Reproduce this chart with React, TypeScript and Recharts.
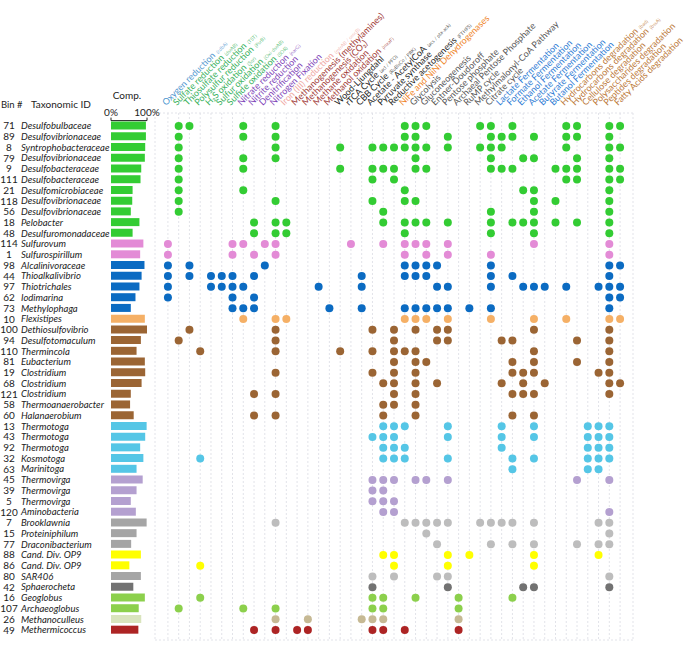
import { BarChart, Bar, XAxis, YAxis, Cell, ScatterChart, Scatter, CartesianGrid } from 'recharts';

const bins = ['71', '89', '8', '79', '9', '111', '21', '118', '56', '18', '48', '114', '1', '98', '44', '97', '62', '73', '10', '100', '94', '110', '81', '19', '68', '121', '58', '60', '13', '43', '92', '32', '63', '45', '39', '5', '120', '7', '15', '77', '88', '86', '80', '42', '16', '107', '26', '49'];

const taxa = ['Desulfobulbaceae', 'Desulfovibrionaceae', 'Syntrophobacteraceae', 'Desulfovibrionaceae', 'Desulfobacteraceae', 'Desulfobacteraceae', 'Desulfomicrobiaceae', 'Desulfovibrionaceae', 'Desulfovibrionaceae', 'Pelobacter', 'Desulfuromonadaceae', 'Sulfurovum', 'Sulfurospirillum', 'Alcalinivoraceae', 'Thioalkalivibrio', 'Thiotrichales', 'Iodimarina', 'Methylophaga', 'Flexistipes', 'Dethiosulfovibrio', 'Desulfotomaculum', 'Thermincola', 'Eubacterium', 'Clostridium', 'Clostridium', 'Clostridium', 'Thermoanaerobacter', 'Halanaerobium', 'Thermotoga', 'Thermotoga', 'Thermotoga', 'Kosmotoga', 'Marinitoga', 'Thermovirga', 'Thermovirga', 'Thermovirga', 'Aminobacteria', 'Brooklawnia', 'Proteiniphilum', 'Draconibacterium', 'Cand. Div. OP9', 'Cand. Div. OP9', 'SAR406', 'Sphaerocheta', 'Geoglobus', 'Archaeoglobus', 'Methanoculleus', 'Methermicoccus'];

// genome completeness, %
const completeness = [97, 97, 95, 94, 84, 82, 60, 59, 55, 79, 60, 90, 81, 93, 85, 79, 68, 55, 94, 100, 83, 71, 94, 95, 85, 55, 53, 63, 99, 95, 81, 90, 71, 88, 71, 55, 69, 99, 71, 56, 83, 51, 83, 62, 94, 77, 84, 76];

const groups = [
  'sred', 'sred', 'sred', 'sred', 'sred', 'sred', 'sred', 'sred', 'sred', 'sred', 'sred',
  'epsi', 'epsi',
  'gamma', 'gamma', 'gamma', 'gamma', 'gamma',
  'defer',
  'firm', 'firm', 'firm', 'firm', 'firm', 'firm', 'firm', 'firm', 'firm',
  'toga', 'toga', 'toga', 'toga', 'toga',
  'syner', 'syner', 'syner', 'syner',
  'bact', 'bact', 'bact',
  'op9', 'op9',
  'bact', 'spiro',
  'arch', 'arch',
  'mcull', 'mcoc',
];

const barColor: Record<string, string> = {
  sred: '#33cc33', epsi: '#e38bd6', gamma: '#0b6bc2', defer: '#f5b066', firm: '#9b6534',
  toga: '#55c6e6', syner: '#b4a0d0', bact: '#a5a5a5', op9: '#ffff00', spiro: '#727272',
  arch: '#8cd04c', mcull: '#d9e4bd', mcoc: '#ad2424',
};
const dotColor: Record<string, string> = { ...barColor, bact: '#bdbdbd', mcull: '#c6b994' };

const pathways = ['Oxygen reduction', 'Sulfate reduction', 'Thiosulfate reduction', 'Polysulfur reduction', 'H\u2082S oxidation', 'Sulfur oxidation', 'Sulfide oxidation', 'Nitrate reduction', 'Nitrite reduction', 'Denitrification', 'Nitrogen Fixation', 'Iron (III) reduction', 'Methanogenesis (methylamines)', 'Methanogenesis (CO\u2082)', 'Methane oxidation', 'Methanol oxidation', 'Wood-Ljungdahl', 'rTCA Cycle', 'CBB Cycle', 'Acetate - AcetylCoA', 'Pyruvate synthase', 'Reductive acetogenesis', 'NiFe and NiNi Dehydrogenases', 'Glycolysis', 'Gluconeogenesis', 'Entner-Doudoroff', 'Pentose phosphate', 'Archaeal Pentose Phosphate', 'RuMP cycle', 'Methylmalonyl-CoA Pathway', 'Citrate cycle', 'Lactate Fermentation', 'Formate Fermentation', 'Ethanol Fermentation', 'Acetate Fermentation', 'Butyrate Fermentation', 'Butanol Fermentation', 'Hydrocarbons degradation', 'Hydrocarbons degradation', 'Cellulose degradation', 'Polysaccharides degradation', 'Peptides degradation', 'Fatty Acids degradation'];

const genes = ['(cdbA)', '(dsrAB)', '(TST)', '(PsrB)', '(Sqr)', '(Oxi-dsrAB)', '(SOR)', '(narG)', '', '', '', '(mtrAB / omcB)', '', '', '', '(mxaF)', '', '(acl / PFO)', '(RuBisCo / PRK)', '(acs / pta-ack)', '', '(FTHFS)', '', '', '', '', '', '', '', '', '', '', '', '', '', '', '', '(bad)', '(bssA)', '', '', '', ''];

const pathwayKind = ['o2', 's', 's', 's', 's', 's', 's', 'n', 'n', 'n', 'n', 'fe', 'ch4', 'ch4', 'ch4', 'ch4', 'c', 'c', 'c', 'c', 'c', 'c', 'h2', 'cm', 'cm', 'cm', 'cm', 'cm', 'cm', 'cm', 'cm', 'ferm', 'ferm', 'ferm', 'ferm', 'ferm', 'ferm', 'deg', 'deg', 'deg', 'deg', 'deg', 'deg'];

const kindColor: Record<string, string> = {
  o2: '#4f97cf', s: '#35b05a', n: '#7d3fb8', fe: '#efa8a3', ch4: '#a13a36', c: '#1e1e1e',
  h2: '#ef8426', cm: '#555555', ferm: '#2d7bd4', deg: '#bb7838',
};

// pathway columns (1-based) present in each bin
const traits = [
  [2, 3, 8, 11, 23, 24, 25, 30, 31, 33, 38, 39, 42, 43],
  [2, 8, 11, 23, 24, 27, 31, 32, 33, 35, 38, 39, 42],
  [2, 11, 17, 20, 21, 22, 23, 24, 25, 27, 30, 31, 32, 38, 42, 43],
  [2, 8, 11, 24, 31, 34, 35, 39, 42],
  [2, 8, 17, 20, 21, 22, 24, 25, 31, 32, 33, 37, 38, 39, 42, 43],
  [2, 20, 22, 38, 39, 42, 43],
  [2, 8, 23, 34, 35, 42],
  [2, 11, 20, 23, 24, 35, 37, 42],
  [2, 21, 31, 35, 42],
  [9, 11, 12, 21, 23, 24, 25, 27, 31, 33, 34, 35, 37, 39, 42],
  [9, 11, 12, 23, 31, 35, 42],
  [1, 7, 8, 10, 11, 18, 21, 23, 24, 25, 27, 35, 42],
  [1, 7, 9, 11, 23, 25, 27, 31, 42],
  [1, 3, 10, 23, 24, 25, 26, 31, 42, 43],
  [1, 3, 5, 6, 7, 9, 19, 23, 24, 25, 31, 33, 42],
  [1, 5, 6, 7, 8, 15, 19, 26, 27, 31, 34, 35, 36, 38, 41, 42, 43],
  [1, 7, 9, 42, 43],
  [7, 8, 9, 16, 19, 23, 24, 25, 26, 27, 29, 31, 42],
  [8, 11, 12, 23, 24, 25, 27, 31, 35, 38, 42, 43],
  [3, 11, 20, 22, 24, 26, 27, 35, 42],
  [2, 11, 22, 26, 27, 32, 33, 39, 42],
  [4, 11, 17, 20, 22, 23, 24, 35, 42],
  [22, 24, 25, 33, 35, 39, 42],
  [11, 20, 22, 24, 33, 34, 35, 41, 42],
  [21, 22, 24, 26, 32, 34, 36, 42, 43],
  [9, 11, 22, 24, 33, 34, 35, 42],
  [21, 22, 24],
  [9, 11, 21, 24, 33, 35],
  [21, 22, 23, 27, 32, 35, 40, 41, 42],
  [20, 21, 22, 27, 32, 35, 40, 41, 42],
  [21, 22, 23, 32, 40, 41, 42],
  [4, 21, 22, 23, 27, 33, 35, 40, 41, 42],
  [33, 40, 41],
  [20, 21, 22, 24, 25, 27, 39, 42],
  [20, 21],
  [20, 21, 22],
  [21, 22, 42],
  [11, 23, 24, 25, 26, 27, 30, 31, 32, 33, 35, 41, 42],
  [25, 42],
  [26, 31, 33, 35, 39, 41, 42],
  [21, 22, 27, 29, 35, 41],
  [4, 22, 27, 35],
  [20, 22, 26, 27, 42],
  [20, 27, 34, 35, 42],
  [4, 20, 21, 24, 28, 33],
  [2, 8, 11, 20, 21, 28],
  [11, 14, 19, 20, 21, 28],
  [9, 11, 13, 14, 20, 21, 23, 28],
];

const barData = bins.map((bin, i) => ({ bin, taxon: taxa[i], comp: completeness[i], group: groups[i] }));
const dots = traits.flatMap((cols, r) => cols.map((c) => ({ x: c, y: r + 1, color: dotColor[groups[r]] })));
const colTicks = pathways.map((_, i) => i + 1);
const rowTicks = bins.map((_, i) => i + 1);

const FONT = 'Lato, "Liberation Sans", sans-serif';

function TaxonTick(props: any) {
  const { y, payload } = props;
  const i = payload.index;
  return (
    <g>
      <text x={9} y={y} dy="0.35em" textAnchor="middle" fontSize={10} fill="#222" fontFamily={FONT}>{bins[i]}</text>
      <text x={21} y={y} dy="0.35em" textAnchor="start" fontSize={9.5} fontStyle="italic" fill="#222" fontFamily={FONT}>{taxa[i]}</text>
    </g>
  );
}

function PathwayTick(props: any) {
  const { x, payload } = props;
  const i = payload.value - 1;
  const col = kindColor[pathwayKind[i]];
  return (
    <g transform={`translate(${x - 2},106) rotate(-45)`}>
      <text x={0} y={0} fontSize={9} fill={col} fontFamily={FONT}>
        {pathways[i]}
        {genes[i] ? <tspan fontSize={5} dx={3} fillOpacity={0.75}>{genes[i]}</tspan> : null}
      </text>
    </g>
  );
}

function Dot(props: any) {
  const { cx, cy, payload } = props;
  return <circle cx={cx} cy={cy} r={4} fill={payload.color} />;
}

export default function App() {
  return (
    <div style={{ position: 'absolute', left: 0, top: 0, width: 685, height: 645, background: '#fff' }}>
      <div style={{ position: 'absolute', left: 0, top: 0 }}>
        <ScatterChart width={685} height={645} margin={{ top: 13, right: 52, bottom: 5, left: 155 }}>
          <CartesianGrid strokeDasharray="2 2" stroke="#dfe0e6" strokeWidth={0.9} />
          <XAxis type="number" dataKey="x" orientation="top" domain={[-0.2, 44.2]} ticks={colTicks} interval={0}
            height={100} axisLine={false} tickLine={false} tick={<PathwayTick />} />
          <YAxis type="number" dataKey="y" reversed domain={[-0.21, 48.93]} ticks={rowTicks} interval={0}
            width={0} axisLine={false} tickLine={false} tick={false} />
          <Scatter data={dots} isAnimationActive={false} shape={<Dot />} />
        </ScatterChart>
      </div>
      <div style={{ position: 'absolute', left: 0, top: 0 }}>
        <BarChart layout="vertical" width={160} height={645} data={barData} barSize={8}
          margin={{ top: 100.6, right: 13, bottom: 9.6, left: 0 }}>
          <XAxis type="number" orientation="top" domain={[0, 100]} ticks={[0, 100]} height={20} tickSize={3}
            tickFormatter={(v: number) => `${v}%`} stroke="#222"
            tick={{ fontSize: 10, fill: '#222', fontFamily: FONT }} />
          <YAxis type="category" dataKey="bin" width={111} axisLine={false} tickLine={false} interval={0}
            tick={<TaxonTick />} />
          <Bar dataKey="comp" isAnimationActive={false}>
            {barData.map((d, i) => <Cell key={i} fill={barColor[d.group]} />)}
          </Bar>
        </BarChart>
      </div>
      <svg width={160} height={115} style={{ position: 'absolute', left: 0, top: 0 }}>
        <text x={1} y={108} textAnchor="start" fontSize={9.5} fill="#222" fontFamily={FONT}>Bin #</text>
        <text x={61} y={108} textAnchor="middle" fontSize={10} fill="#222" fontFamily={FONT}>Taxonomic ID</text>
        <text x={127} y={99} textAnchor="middle" fontSize={10} fill="#222" fontFamily={FONT}>Comp.</text>
      </svg>
    </div>
  );
}
